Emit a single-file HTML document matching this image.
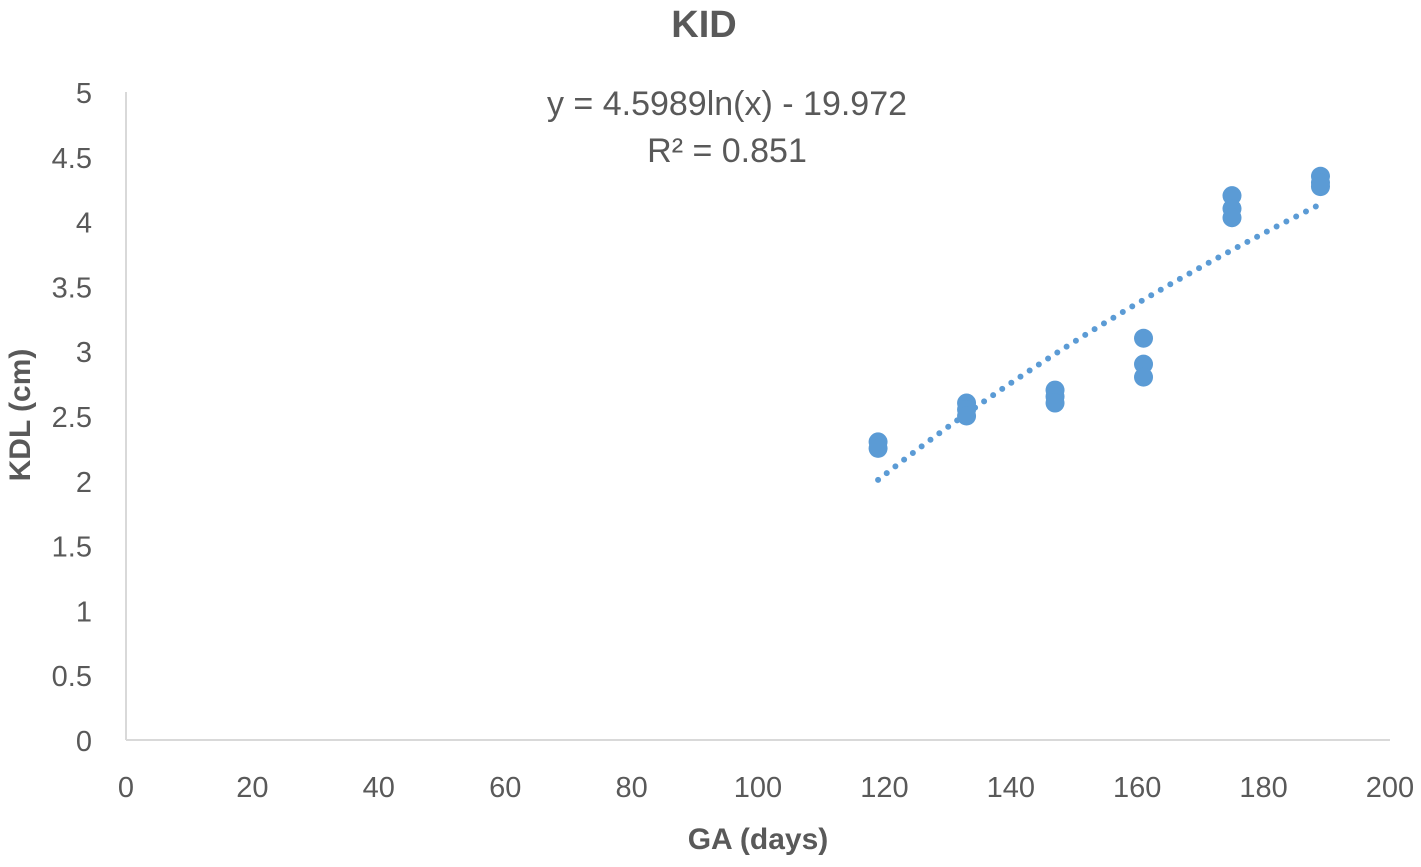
<!DOCTYPE html>
<html><head><meta charset="utf-8"><style>
body{margin:0;background:#fff;}
svg text{font-family:"Liberation Sans",sans-serif;fill:#595959;}
</style></head><body>
<svg id="chart" width="1421" height="862" xmlns="http://www.w3.org/2000/svg">
<text x="704" y="37" text-anchor="middle" font-size="38" font-weight="bold">KID</text>
<text x="727" y="115" text-anchor="middle" font-size="34">y = 4.5989ln(x) - 19.972</text>
<text x="727" y="162" text-anchor="middle" font-size="34">R² = 0.851</text>
<text transform="translate(30,415) rotate(-90)" text-anchor="middle" font-size="30" font-weight="bold">KDL (cm)</text>
<text x="758" y="849" text-anchor="middle" font-size="30" font-weight="bold">GA (days)</text>
<g id="axes"></g><g id="trend"></g><g id="points"></g>
</svg>
<script>
const xTicks=[0,20,40,60,80,100,120,140,160,180,200];
const yTicks=[0,0.5,1,1.5,2,2.5,3,3.5,4,4.5,5];
const gaDays=[119,119,133,133,133,147,147,147,161,161,161,175,175,175,189,189,189];
const kdlValues=[2.3,2.25,2.6,2.55,2.5,2.7,2.65,2.6,3.1,2.9,2.8,4.2,4.1,4.03,4.35,4.3,4.27];
const trendA=4.5989, trendB=-19.972;
const NS="http://www.w3.org/2000/svg";
const X=v=>126+v*(1390-126)/200;
const Y=v=>740-v*(740-92)/5;
function mk(tag,attrs,parent){const e=document.createElementNS(NS,tag);for(const k in attrs)e.setAttribute(k,attrs[k]);parent.appendChild(e);return e;}
const axes=document.getElementById('axes');
let l=mk('line',{x1:X(0),y1:Y(0),x2:X(200),y2:Y(0),stroke:'#d9d9d9','stroke-width':2},axes);


l=mk('line',{x1:X(0),y1:Y(0),x2:X(0),y2:Y(5),stroke:'#d9d9d9','stroke-width':2},axes);


xTicks.forEach(t=>{
const e=mk('text',{x:X(t),y:797,'text-anchor':'middle','font-size':29},axes);e.textContent=t;

});
yTicks.forEach(t=>{const e=mk('text',{x:92,y:Y(t)+11,'text-anchor':'end','font-size':29},axes);e.textContent=t;

});
const tr=document.getElementById('trend');
let d='';const x0=Math.min(...gaDays),x1=Math.max(...gaDays);
for(let i=0;i<=100;i++){const x=x0+(x1-x0)*i/100;d+=(i?'L':'M')+X(x).toFixed(2)+' '+Y(trendA*Math.log(x)+trendB).toFixed(2);}
const p=mk('path',{d:d,fill:'none',stroke:'#5b9bd5','stroke-width':6,'stroke-linecap':'round','stroke-dasharray':'0 11'},tr);


const pts=document.getElementById('points');
gaDays.forEach((g,i)=>{const c=mk('circle',{cx:X(g),cy:Y(kdlValues[i]),r:9.5,fill:'#5b9bd5'},pts);

});
</script>
</body></html>
